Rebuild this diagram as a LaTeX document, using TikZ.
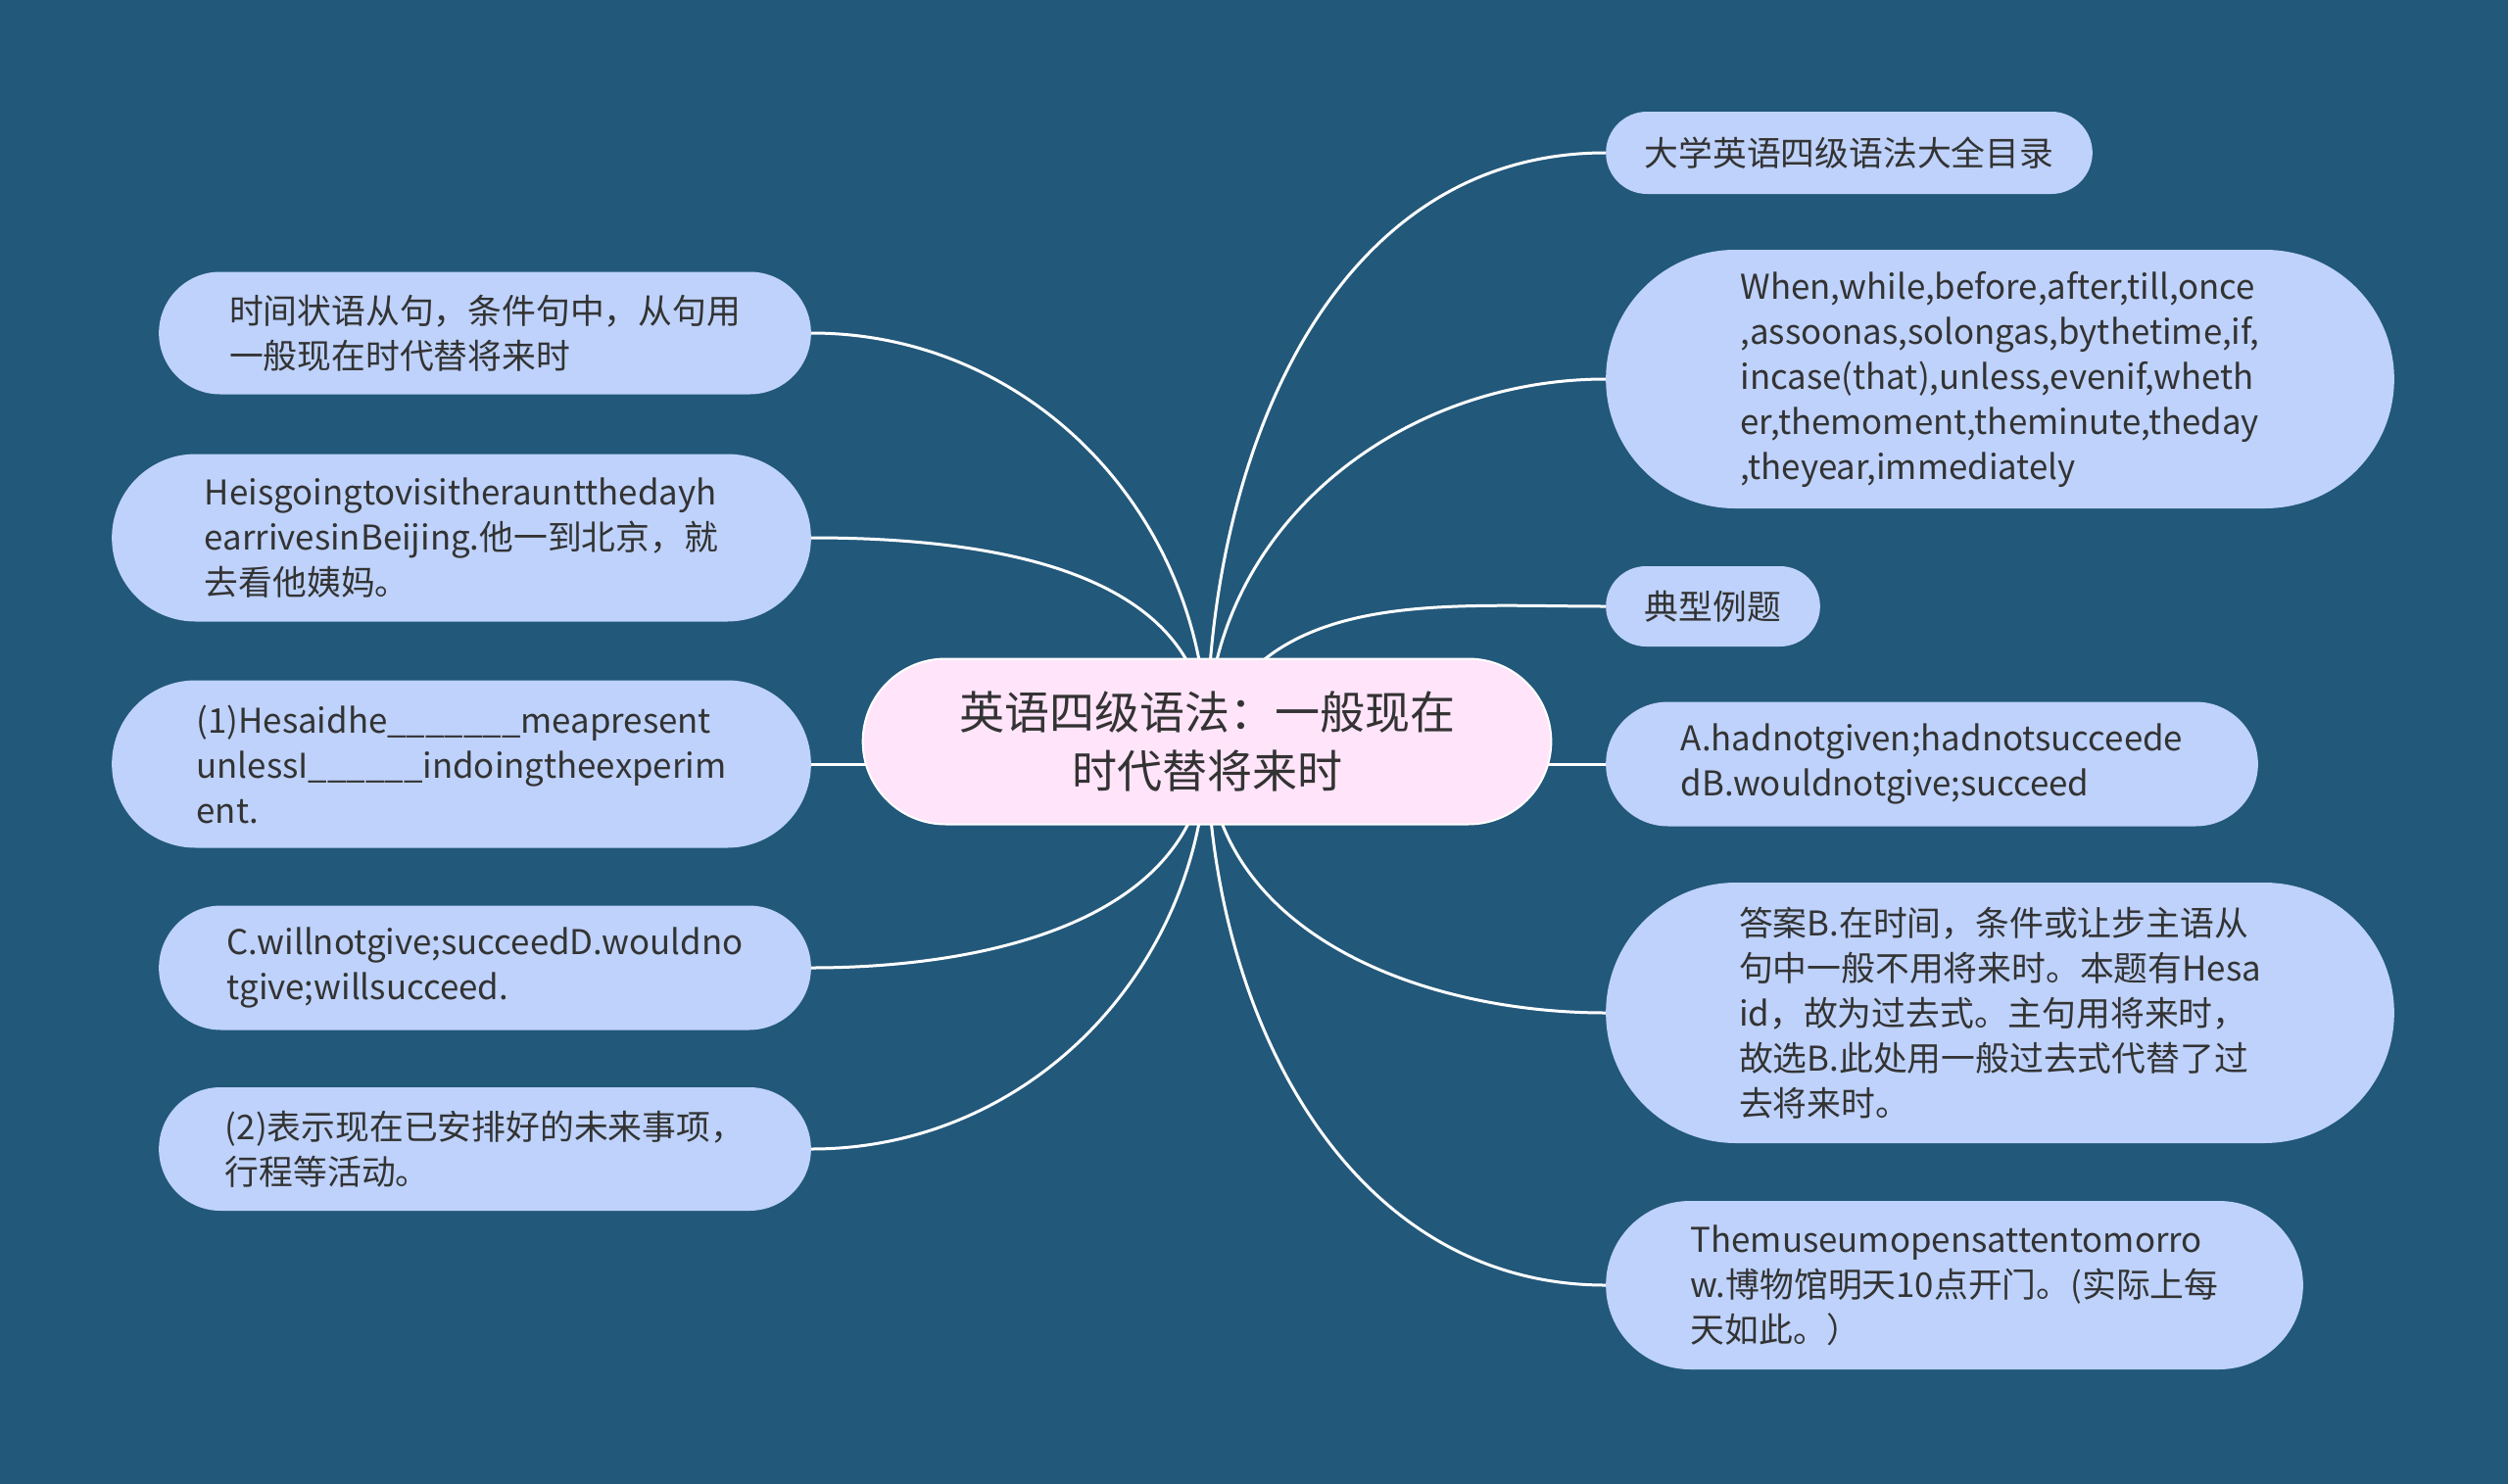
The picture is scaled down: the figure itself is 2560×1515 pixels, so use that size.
\documentclass[tikz,border=0pt]{standalone}
\usepackage{fontspec}
\setmainfont{Noto Sans CJK SC}
\usetikzlibrary{shapes.misc,backgrounds}
\definecolor{bgblue}{HTML}{22587A}
\definecolor{leafblue}{HTML}{BED2FB}
\definecolor{rootpink}{HTML}{FFE4FA}
\definecolor{inkgray}{HTML}{333333}
\tikzset{topic/.style = {shape=rounded rectangle,fill=rootpink,draw=white,line width=1pt,text=inkgray,align=center,font=\fontsize{23}{30}\selectfont}}
\tikzset{leaf/.style = {shape=rounded rectangle,fill=leafblue,text=inkgray,align=left,font=\fontsize{17.4}{23}\selectfont}}
\tikzset{branch/.style = {draw=white,line width=1.5pt}}

\begin{document}
\begin{tikzpicture}[x=0.5pt,y=-0.5pt]
                    \useasboundingbox (0,0) rectangle (2560,1515);

                    \node[topic,minimum width=358pt,minimum height=84.5pt] (T) at (1232,757) {英语四级语法：一般现在\\时代替将来时};

                    \node[leaf,minimum width=255pt,minimum height=42pt] (R1) at (1887.5,156) {大学英语四级语法大全目录};
                    \node[leaf,minimum width=409pt,minimum height=132pt] (R2) at (2041.5,387) {When,while,before,after,till,once\\,assoonas,solongas,bythetime,if,\\incase(that),unless,evenif,wheth\\er,themoment,theminute,theday\\,theyear,immediately};
                    \node[leaf,minimum width=116pt,minimum height=41pt] (R3) at (1748.5,619) {典型例题};
                    \node[leaf,minimum width=339.5pt,minimum height=63.5pt] (R4) at (1972,780) {A.hadnotgiven;hadnotsucceede\\dB.wouldnotgive;succeed};
                    \node[leaf,minimum width=409pt,minimum height=133pt] (R5) at (2041.5,1034) {答案B.在时间，条件或让步主语从\\句中一般不用将来时。本题有Hesa\\id，故为过去式。主句用将来时，\\故选B.此处用一般过去式代替了过\\去将来时。};
                    \node[leaf,minimum width=362.5pt,minimum height=86pt] (R6) at (1995,1312) {Themuseumopensattentomorro\\w.博物馆明天10点开门。(实际上每\\天如此。）};

                    \node[leaf,minimum width=339.5pt,minimum height=62.5pt] (L1) at (495,340) {时间状语从句，条件句中，从句用\\一般现在时代替将来时};
                    \node[leaf,minimum width=363.5pt,minimum height=85.5pt] (L2) at (471,549) {Heisgoingtovisitherauntthedayh\\earrivesinBeijing.他一到北京，就\\去看他姨妈。};
                    \node[leaf,minimum width=363.5pt,minimum height=85.5pt] (L3) at (471,780) {(1)Hesaidhe\_\_\_\_\_\_\_meapresent\\unlessI\_\_\_\_\_\_indoingtheexperim\\ent.};
                    \node[leaf,minimum width=339.5pt,minimum height=63.5pt] (L4) at (495,988) {C.willnotgive;succeedD.wouldno\\tgive;willsucceed.};
                    \node[leaf,minimum width=339.5pt,minimum height=63pt] (L5) at (495,1173) {(2)表示现在已安排好的未来事项，\\行程等活动。};

                    \begin{pgfonlayer}{background}
                    \fill[bgblue] (0,0) rectangle (2560,1515);
                    % right side
                    \draw[branch] (T.center) to[out=90,in=180] (R1.west);
                    \draw[branch] (T.center) to[out=90,in=180] (R2.west);
                    \draw[branch] (T.center) to[out=70,in=180] (R3.west);
                    \draw[branch] (R4.west) -- (R4.west -| T.center);
                    \draw[branch] (T.center) to[out=-90,in=180] (R5.west);
                    \draw[branch] (T.center) to[out=-90,in=180] (R6.west);
                    % left side
                    \draw[branch] (T.center) to[out=90,in=0] (L1.east);
                    \draw[branch] (T.center) to[out=90,in=0] (L2.east);
                    \draw[branch] (L3.east) -- (L3.east -| T.center);
                    \draw[branch] (T.center) to[out=-90,in=0] (L4.east);
                    \draw[branch] (T.center) to[out=-90,in=0] (L5.east);
                    \end{pgfonlayer}
                \end{tikzpicture}
\end{document}
